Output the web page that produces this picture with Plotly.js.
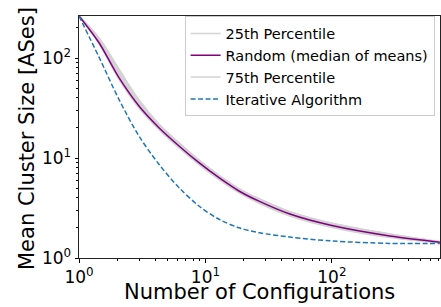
<!DOCTYPE html>
<html>
<head>
<meta charset="utf-8">
<script src="https://cdn.plot.ly/plotly-3.0.1.min.js"></script>
<style>html,body{margin:0;padding:0;background:#fff;}#chart{width:441px;height:307px;}</style>
</head>
<body>
<div id="chart"></div>
<script>
// Number of configurations (x)
var configs = [1, 1.44, 2.07, 2.98, 4.29, 6.18, 8.89, 12.8, 18.4, 26.5, 46.5, 100, 287, 714];
// Random: median of means
var median = [263, 142, 63.5, 33.1, 20.1, 13.2, 8.98, 6.35, 4.68, 3.7, 2.75, 2.11, 1.66, 1.44];
// 25th and 75th percentile
var p25 = [263, 139, 61.3, 31.6, 19.2, 12.6, 8.58, 6.06, 4.47, 3.53, 2.63, 2.02, 1.60, 1.42];
var p75 = [263, 159, 77.2, 38.0, 21.8, 14.15, 9.51, 6.72, 4.95, 3.92, 2.91, 2.23, 1.74, 1.46];
// Iterative algorithm
var iterative = [263, 102, 38.6, 16.6, 8.65, 5.05, 3.31, 2.44, 2.01, 1.79, 1.62, 1.48, 1.40, 1.40];

var xTickVals = [1, 10, 100];
var xTickText = ['10<sup>0</sup>', '10<sup>1</sup>', '10<sup>2</sup>'];
var yTickVals = [1, 10, 100];
var yTickText = ['10<sup>0</sup>', '10<sup>1</sup>', '10<sup>2</sup>'];
var xTitle = 'Number of Configurations';
var yTitle = 'Mean Cluster Size [ASes]';

var minorVals = [];
[1, 10, 100].forEach(function (d) { for (var k = 2; k <= 9; k++) minorVals.push(k * d); });

var grey = '#d3d3d3';
var sm = 0.9;
var traces = [
  {x: configs, y: p25, mode: 'lines', name: '25th Percentile', legendrank: 1,
   line: {color: grey, width: 1.5, shape: 'spline', smoothing: sm}},
  {x: configs, y: p75, mode: 'lines', fill: 'tonexty', fillcolor: grey, showlegend: false, hoverinfo: 'skip',
   line: {color: grey, width: 1.5, shape: 'spline', smoothing: sm}},
  {x: configs, y: p75, mode: 'lines', name: '75th Percentile', legendrank: 3,
   line: {color: grey, width: 1.5, shape: 'spline', smoothing: sm}},
  {x: configs, y: median, mode: 'lines', name: 'Random (median of means)', legendrank: 2,
   line: {color: '#800080', width: 1.5, shape: 'spline', smoothing: sm}},
  {x: configs, y: iterative, mode: 'lines', name: 'Iterative Algorithm', legendrank: 4,
   line: {color: '#1f77b4', width: 1.5, dash: '5px,2.5px', shape: 'spline', smoothing: sm}}
];

var font = 'DejaVu Sans, sans-serif';
var layout = {
  width: 441, height: 307,
  margin: {l: 79, r: 1, t: 16, b: 49},
  paper_bgcolor: '#fff', plot_bgcolor: '#fff',
  font: {family: font, color: '#000', size: 15},
  showlegend: true,
  legend: {
    x: 0.985, xanchor: 'right', y: 0.998, yanchor: 'top',
    traceorder: 'normal',
    bgcolor: 'rgba(255,255,255,0.8)', bordercolor: '#cccccc', borderwidth: 1,
    font: {family: font, size: 14.5, color: '#000'},
    itemwidth: 30
  },
  xaxis: {
    type: 'log', range: [0, 2.855],
    showgrid: false, zeroline: false,
    showline: true, linecolor: '#222', linewidth: 1, mirror: true,
    ticks: 'outside', ticklen: 3.5, tickcolor: '#000',
    tickvals: xTickVals, ticktext: xTickText,
    tickfont: {family: font, size: 17},
    minor: {tickvals: minorVals, ticks: 'outside', ticklen: 2, tickcolor: '#000', showgrid: false}
  },
  yaxis: {
    type: 'log', range: [0, 2.42],
    showgrid: false, zeroline: false,
    showline: true, linecolor: '#222', linewidth: 1, mirror: true,
    ticks: 'outside', ticklen: 3.5, tickcolor: '#000',
    tickvals: yTickVals, ticktext: yTickText,
    tickfont: {family: font, size: 17},
    minor: {tickvals: minorVals, ticks: 'outside', ticklen: 2, tickcolor: '#000', showgrid: false}
  },
  annotations: [
    {text: xTitle, xref: 'paper', yref: 'paper', x: 0.5, y: 0, xanchor: 'center', yanchor: 'middle',
     yshift: -34, showarrow: false, font: {family: font, size: 21, color: '#000'}},
    {text: yTitle, xref: 'paper', yref: 'paper', x: 0, y: 0.5, xanchor: 'center', yanchor: 'middle',
     xshift: -52, yshift: -2, textangle: -90, showarrow: false, font: {family: font, size: 21, color: '#000'}}
  ]
};

Plotly.newPlot('chart', traces, layout, {displayModeBar: false, staticPlot: true});
</script>
</body>
</html>
